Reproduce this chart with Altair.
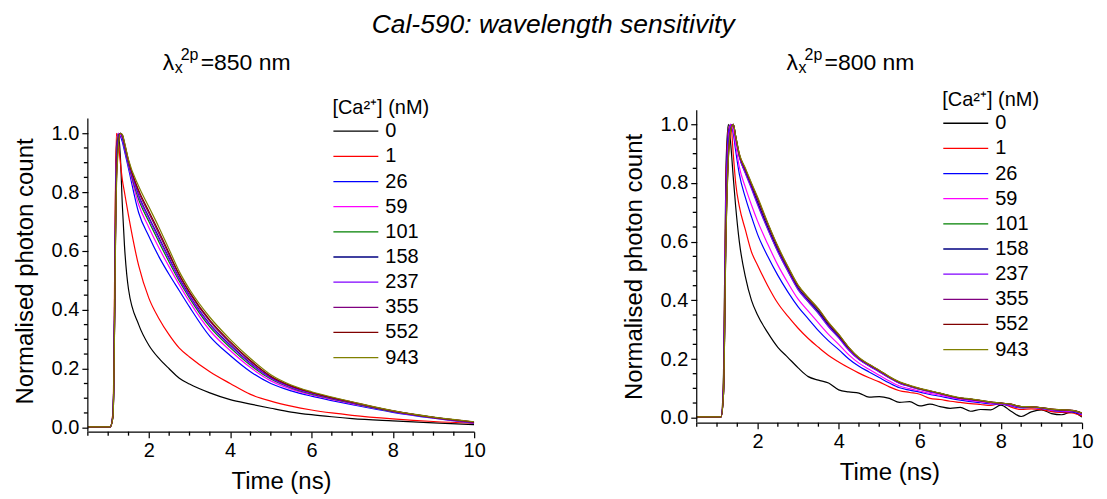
import altair as alt
import pandas as pd

FONT = "Liberation Sans"

TITLE = "Cal-590: wavelength sensitivity"
LEGEND_TITLE = "[Ca²⁺] (nM)"
SUB_L = ["λ", "x", "2p", "=850 nm"]
SUB_R = ["λ", "x", "2p", "=800 nm"]
X_TITLE = "Time (ns)"
Y_TITLE = "Normalised photon count"

CONC = ["0", "1", "26", "59", "101", "158", "237", "355", "552", "943"]
COLORS = ["#000000", "#FF0000", "#0000FF", "#FF00FF", "#008000",
          "#000080", "#8000FF", "#800080", "#800000", "#808000"]

X_MAJOR = [2, 4, 6, 8, 10]
X_MINOR = [0.5, 1.0, 1.5, 2.5, 3.0, 3.5, 4.5, 5.0, 5.5, 6.5, 7.0, 7.5, 8.5, 9.0, 9.5]
Y_MAJOR = [0.0, 0.2, 0.4, 0.6, 0.8, 1.0]
Y_MINOR = [0.05, 0.1, 0.15, 0.25, 0.3, 0.35, 0.45, 0.5, 0.55, 0.65, 0.7, 0.75,
           0.85, 0.9, 0.95]

# ---------------- left panel: 850 nm ----------------
T_L = [0.5, 1.05, 1.12, 1.2, 1.25, 1.3, 1.35, 1.4, 1.5, 1.75, 2.0, 2.25, 2.5,
       2.75, 3.0, 3.5, 4.0, 4.5, 5.0, 5.5, 6.0, 6.5, 7.0, 8.0, 9.0, 10.0]
L_0 = [0.003, 0.003, 0.04, 0.95, 1.0, 0.92, 0.75, 0.62, 0.47, 0.35, 0.28, 0.235, 0.2,
       0.168, 0.148, 0.118, 0.095, 0.08, 0.066, 0.053, 0.044, 0.037, 0.031, 0.023, 0.016, 0.01]
L_1 = [0.003, 0.003, 0.06, 1.0, 0.97, 0.9, 0.84, 0.8, 0.72, 0.55, 0.44, 0.37, 0.315,
       0.27, 0.24, 0.19, 0.15, 0.113, 0.09, 0.073, 0.06, 0.05, 0.042, 0.03, 0.021, 0.015]
L_26 = [0.003, 0.003, 0.05, 0.9, 1.0, 0.99, 0.97, 0.94, 0.88, 0.73, 0.65, 0.58, 0.52,
        0.465, 0.41, 0.31, 0.245, 0.19, 0.15, 0.125, 0.107, 0.092, 0.078, 0.052, 0.032, 0.015]
L_59 = [0.003, 0.003, 0.05, 0.88, 1.0, 0.995, 0.98, 0.95, 0.89, 0.757, 0.68, 0.61, 0.546,
        0.485, 0.428, 0.33, 0.262, 0.204, 0.159, 0.131, 0.111, 0.095, 0.081, 0.054, 0.033, 0.016]
L_101 = [0.003, 0.003, 0.05, 0.86, 0.99, 1.0, 0.985, 0.955, 0.895, 0.775, 0.70, 0.63, 0.562,
         0.497, 0.44, 0.342, 0.272, 0.212, 0.165, 0.135, 0.114, 0.098, 0.083, 0.055, 0.034, 0.017]
L_158 = [0.003, 0.003, 0.045, 0.84, 0.98, 1.0, 0.99, 0.96, 0.9, 0.789, 0.715, 0.645, 0.575,
         0.507, 0.449, 0.352, 0.281, 0.219, 0.17, 0.138, 0.117, 0.1, 0.085, 0.056, 0.035, 0.018]
L_237 = [0.003, 0.003, 0.045, 0.85, 0.98, 1.0, 0.99, 0.96, 0.9, 0.784, 0.71, 0.64, 0.571,
         0.504, 0.446, 0.349, 0.278, 0.217, 0.168, 0.137, 0.116, 0.099, 0.084, 0.056, 0.034, 0.017]
L_355 = [0.003, 0.003, 0.04, 0.83, 0.97, 1.0, 0.993, 0.965, 0.905, 0.8, 0.728, 0.658, 0.586,
         0.516, 0.457, 0.361, 0.288, 0.225, 0.173, 0.141, 0.119, 0.101, 0.086, 0.057, 0.035, 0.019]
L_552 = [0.003, 0.003, 0.04, 0.82, 0.96, 1.0, 0.994, 0.967, 0.907, 0.806, 0.735, 0.665, 0.592,
         0.52, 0.461, 0.365, 0.292, 0.228, 0.175, 0.142, 0.12, 0.102, 0.087, 0.057, 0.035, 0.019]
L_943 = [0.003, 0.003, 0.04, 0.8, 0.95, 1.0, 0.995, 0.97, 0.91, 0.82, 0.75, 0.68, 0.605,
         0.53, 0.47, 0.375, 0.3, 0.235, 0.18, 0.145, 0.122, 0.104, 0.088, 0.058, 0.036, 0.02]

# ---------------- right panel: 800 nm ----------------
T_R = [0.5, 1.1, 1.16, 1.22, 1.28, 1.34, 1.4, 1.46, 1.55, 1.7, 1.85,
       2.0, 2.25, 2.5, 2.75, 3.0, 3.25, 3.5, 3.75, 4.0, 4.25, 4.5, 4.75, 5.0, 5.25,
       5.5, 5.75, 6.0, 6.25, 6.5, 6.75, 7.0, 7.25, 7.5, 7.75, 8.0, 8.25, 8.5, 8.75,
       9.0, 9.25, 9.5, 9.75, 10.0]
R_0 = [0.003, 0.003, 0.15, 0.85, 1.0, 0.93, 0.82, 0.72, 0.6, 0.48, 0.40,
       0.35, 0.29, 0.24, 0.205, 0.17, 0.14, 0.128, 0.118, 0.095, 0.088, 0.084, 0.07, 0.072, 0.066,
       0.052, 0.055, 0.04, 0.046, 0.038, 0.032, 0.035, 0.022, 0.028, 0.027, 0.043, 0.022, 0.004, 0.02,
       0.027, 0.014, 0.01, 0.02, 0.002]
R_1 = [0.003, 0.003, 0.12, 0.8, 0.98, 1.0, 0.9, 0.8, 0.72, 0.64, 0.565,
       0.52, 0.45, 0.39, 0.345, 0.305, 0.27, 0.24, 0.212, 0.19, 0.17, 0.152, 0.136, 0.122, 0.105,
       0.092, 0.086, 0.08, 0.066, 0.062, 0.056, 0.052, 0.048, 0.045, 0.042, 0.048, 0.036, 0.028, 0.03,
       0.027, 0.021, 0.018, 0.016, 0.006]
R_26 = [0.003, 0.003, 0.1, 0.75, 0.97, 1.0, 0.97, 0.91, 0.83, 0.75, 0.685,
        0.625, 0.55, 0.485, 0.428, 0.378, 0.337, 0.297, 0.262, 0.232, 0.2, 0.175, 0.156, 0.137, 0.118,
        0.102, 0.094, 0.087, 0.079, 0.073, 0.066, 0.06, 0.055, 0.051, 0.047, 0.046, 0.04, 0.033, 0.035,
        0.031, 0.025, 0.021, 0.02, 0.01]
R_59 = [0.003, 0.003, 0.09, 0.7, 0.94, 1.0, 0.98, 0.93, 0.855, 0.785, 0.725,
        0.67, 0.592, 0.52, 0.459, 0.404, 0.363, 0.323, 0.284, 0.25, 0.214, 0.186, 0.165, 0.145, 0.125,
        0.108, 0.099, 0.091, 0.083, 0.077, 0.069, 0.063, 0.058, 0.054, 0.049, 0.047, 0.042, 0.035, 0.035,
        0.032, 0.026, 0.023, 0.022, 0.012]
R_101 = [0.003, 0.003, 0.085, 0.63, 0.9, 0.99, 1.0, 0.955, 0.89, 0.835, 0.785,
         0.73, 0.645, 0.567, 0.5, 0.438, 0.396, 0.357, 0.312, 0.274, 0.232, 0.199, 0.177, 0.157, 0.136,
         0.118, 0.107, 0.097, 0.089, 0.082, 0.073, 0.066, 0.062, 0.057, 0.052, 0.049, 0.045, 0.037, 0.036,
         0.033, 0.028, 0.026, 0.024, 0.015]
R_158 = [0.003, 0.003, 0.085, 0.64, 0.91, 0.99, 1.0, 0.958, 0.893, 0.838, 0.788,
         0.735, 0.65, 0.572, 0.505, 0.442, 0.4, 0.362, 0.316, 0.277, 0.235, 0.201, 0.179, 0.159, 0.138,
         0.12, 0.108, 0.098, 0.09, 0.083, 0.074, 0.067, 0.063, 0.058, 0.052, 0.05, 0.045, 0.037, 0.036,
         0.034, 0.028, 0.026, 0.024, 0.015]
R_237 = [0.003, 0.003, 0.09, 0.66, 0.92, 0.995, 1.0, 0.955, 0.89, 0.832, 0.78,
         0.726, 0.642, 0.565, 0.498, 0.436, 0.395, 0.355, 0.31, 0.272, 0.23, 0.198, 0.176, 0.156, 0.135,
         0.117, 0.106, 0.097, 0.088, 0.081, 0.072, 0.066, 0.061, 0.057, 0.052, 0.049, 0.044, 0.037, 0.036,
         0.033, 0.028, 0.025, 0.024, 0.015]
R_355 = [0.003, 0.003, 0.08, 0.62, 0.89, 0.985, 1.0, 0.96, 0.897, 0.845, 0.795,
         0.745, 0.66, 0.58, 0.511, 0.448, 0.406, 0.368, 0.321, 0.282, 0.238, 0.203, 0.181, 0.161, 0.139,
         0.121, 0.109, 0.099, 0.091, 0.083, 0.074, 0.067, 0.063, 0.058, 0.053, 0.05, 0.046, 0.038, 0.037,
         0.034, 0.029, 0.027, 0.025, 0.016]
R_552 = [0.003, 0.003, 0.08, 0.61, 0.885, 0.98, 1.0, 0.96, 0.898, 0.847, 0.797,
         0.748, 0.662, 0.582, 0.513, 0.45, 0.408, 0.37, 0.323, 0.283, 0.239, 0.204, 0.181, 0.161, 0.139,
         0.121, 0.109, 0.099, 0.091, 0.083, 0.074, 0.067, 0.063, 0.058, 0.053, 0.05, 0.046, 0.038, 0.037,
         0.034, 0.029, 0.026, 0.025, 0.016]
R_943 = [0.003, 0.003, 0.08, 0.6, 0.88, 0.98, 1.0, 0.96, 0.9, 0.85, 0.8,
         0.752, 0.665, 0.585, 0.515, 0.452, 0.41, 0.372, 0.325, 0.285, 0.24, 0.205, 0.182, 0.162, 0.14,
         0.122, 0.11, 0.1, 0.092, 0.084, 0.075, 0.068, 0.064, 0.059, 0.053, 0.05, 0.046, 0.038, 0.037,
         0.034, 0.029, 0.027, 0.025, 0.016]

LEFT = [L_0, L_1, L_26, L_59, L_101, L_158, L_237, L_355, L_552, L_943]
RIGHT = [R_0, R_1, R_26, R_59, R_101, R_158, R_237, R_355, R_552, R_943]


def frame(times, series):
    rows = []
    for c, vals in zip(CONC, series):
        assert len(vals) == len(times), (c, len(vals), len(times))
        for t, v in zip(times, vals):
            rows.append({"t": t, "v": v, "c": c})
    return pd.DataFrame(rows)


def panel(df, ydom, ytop, w, h, sub, sub_x, leg_x, leg_y):
    xscale = alt.Scale(domain=[0.5, 10], nice=False, zero=False)
    yscale = alt.Scale(domain=ydom, nice=False, zero=False)
    xaxis = alt.Axis(
        values=X_MAJOR, format="d", ticks=True, tickSize=6, tickColor="black",
        tickWidth=1.2, tickOpacity=1,
        title=X_TITLE, labelFlush=False, labelOverlap=False, grid=False,
        labelPadding=3, titlePadding=9,
    )
    yaxis = alt.Axis(
        values=Y_MAJOR, format=".1f", ticks=True, tickSize=6, tickColor="black",
        tickWidth=1.2, tickOpacity=1,
        title=Y_TITLE, labelFlush=False, labelOverlap=False, grid=False, domain=False,
        labelPadding=3, titlePadding=14,
    )
    legend = alt.Legend(
        title=LEGEND_TITLE, orient="none", legendX=leg_x, legendY=leg_y,
        symbolType="stroke", symbolSize=2025, symbolStrokeWidth=1.3,
        clipHeight=20, rowPadding=5.2, labelOffset=6, padding=0,
        labelFont=FONT, labelFontSize=20, labelColor="black",
        titleFont=FONT, titleFontSize=20, titleFontWeight="normal", titleColor="black",
        titlePadding=3,
    )
    lines = alt.Chart(df).mark_line(strokeWidth=1.2, interpolate="monotone", clip=True).encode(
        x=alt.X("t:Q", scale=xscale, axis=xaxis),
        y=alt.Y("v:Q", scale=yscale, axis=yaxis),
        color=alt.Color("c:N", scale=alt.Scale(domain=CONC, range=COLORS), legend=legend),
    )
    # minor ticks (outward, shorter than the major ones)
    xminor = alt.Chart(pd.DataFrame({"t": X_MINOR})).mark_rule(
        color="black", strokeWidth=1.3, opacity=1
    ).encode(
        x=alt.X("t:Q", scale=xscale, axis=xaxis), y=alt.value(h), y2=alt.value(h + 4)
    )
    yminor = alt.Chart(pd.DataFrame({"v": Y_MINOR})).mark_rule(
        color="black", strokeWidth=1.3, opacity=1
    ).encode(
        y=alt.Y("v:Q", scale=yscale, axis=yaxis), x=alt.value(-4), x2=alt.value(0)
    )
    ydomain_line = alt.Chart(pd.DataFrame({"k": [0]})).mark_rule(color="black", strokeWidth=1.2).encode(
        x=alt.value(0), y=alt.datum(ydom[0]), y2=alt.datum(ytop)
    )
    # subtitle  λx^2p = ... nm  (normal, subscript and superscript pieces)
    pieces = [
        (sub[0], sub_x, -40, 23),
        (sub[1], sub_x + 12, -37, 16),
        (sub[2], sub_x + 18, -50, 16),
        (sub[3], sub_x + 38, -40, 23),
    ]
    texts = []
    for s, px, py, fs in pieces:
        texts.append(
            alt.Chart(pd.DataFrame({"s": [s]})).mark_text(
                font=FONT, fontSize=fs, align="left", baseline="alphabetic", color="black"
            ).encode(text="s:N", x=alt.value(px), y=alt.value(py))
        )
    return alt.layer(lines, xminor, yminor, ydomain_line, *texts).properties(width=w, height=h)


left = panel(frame(T_L, LEFT), [-0.0136, 1.078], 1.05, 387, 322, SUB_L, 75, 245, -12)
right = panel(frame(T_R, RIGHT), [-0.017, 1.048], 1.048, 386, 313, SUB_R, 90, 246, -20)

chart = alt.hconcat(left, right, spacing=136).resolve_scale(
    color="independent", x="independent", y="independent"
).resolve_legend(color="independent").properties(
    title=alt.TitleParams(TITLE, font=FONT, fontSize=26.5, fontStyle="italic", fontWeight="normal",
                          anchor="middle", color="black", offset=9),
    padding={"left": 5, "top": 3, "right": 5, "bottom": 0},
).configure_view(stroke=None).configure_axis(
    labelFont=FONT, labelFontSize=20, labelColor="black",
    titleFont=FONT, titleFontSize=24, titleFontWeight="normal", titleColor="black",
    domainColor="black", domainWidth=1.2, ticks=True, tickColor="black", tickWidth=1.2,
)

chart.save("out.html", embed_options={"renderer": "svg", "actions": False})
